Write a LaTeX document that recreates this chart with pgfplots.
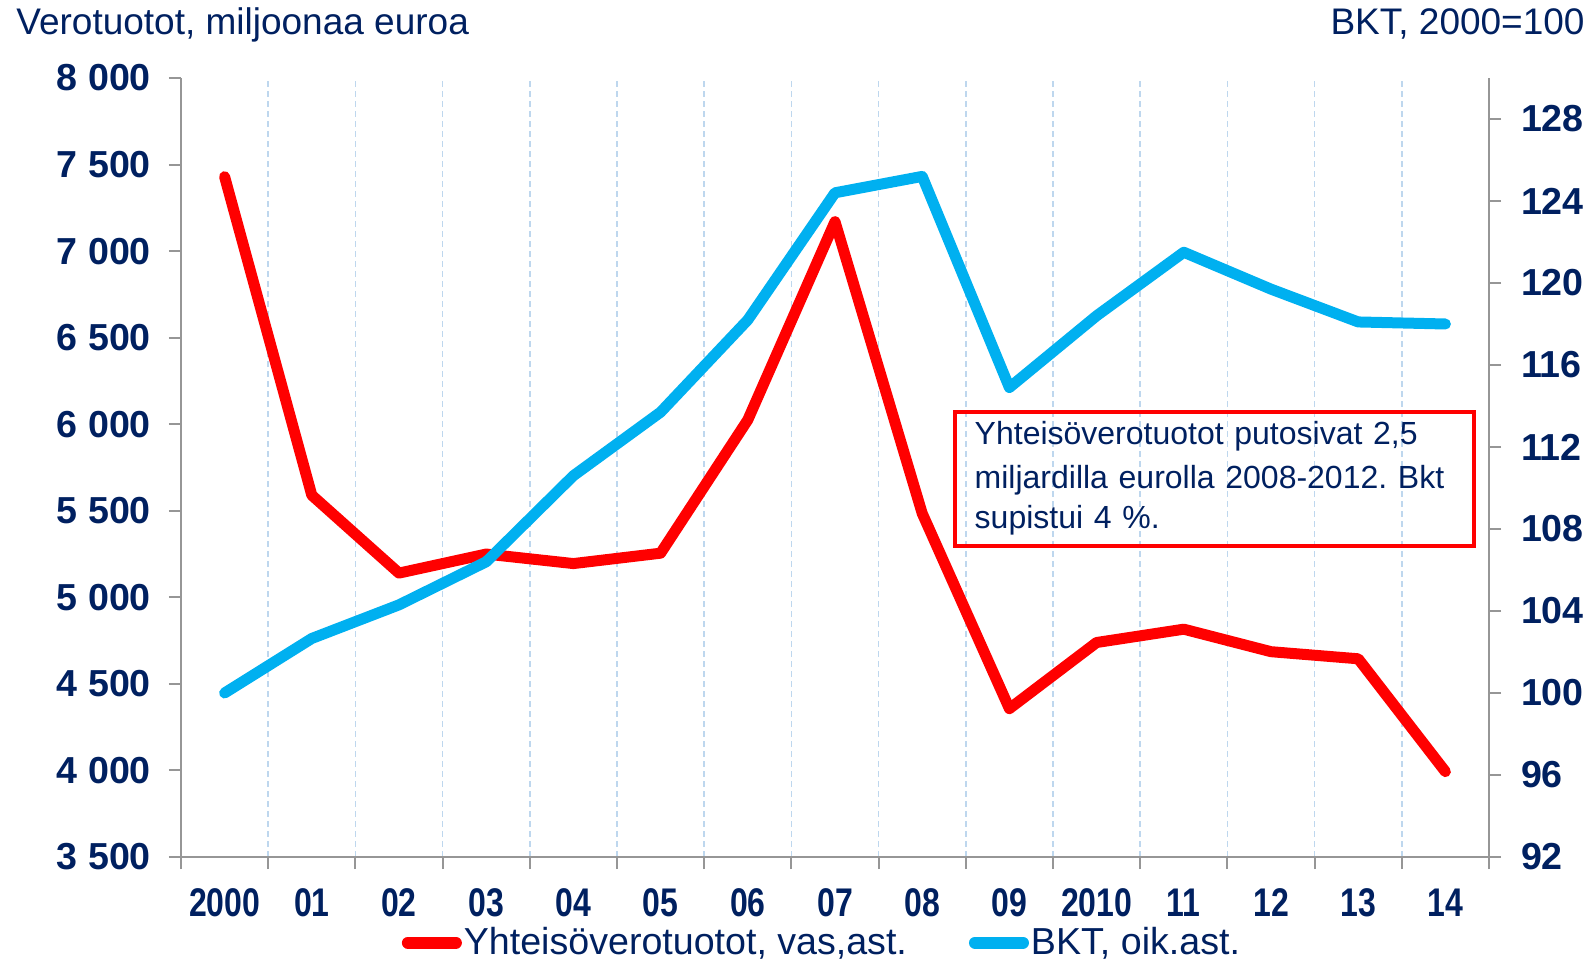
\documentclass[border=0pt]{standalone}
\usepackage{pgfplots}
\pgfplotsset{compat=1.18}
\usepackage{fontspec}
\setmainfont{Liberation Sans}
\newfontfamily\narrowfont[FakeStretch=0.8]{Liberation Sans}
\definecolor{navy}{RGB}{0,32,96}
\definecolor{axisgray}{RGB}{150,150,150}
\definecolor{gridblue}{RGB}{190,215,238}
\definecolor{bktblue}{RGB}{0,176,240}
\definecolor{taxred}{RGB}{255,0,0}
\begin{document}
\frenchspacing
\begin{tikzpicture}
\useasboundingbox (-90.5bp,-53bp) rectangle (706.5bp,428.5bp);
\begin{axis}[
  at={(0,0)}, anchor=south west, scale only axis,
  width=654bp, height=389.5bp,
  xmin=-0.5, xmax=14.5, ymin=3500, ymax=8000,
  axis x line*=bottom, axis y line*=left,
  axis line style={draw=axisgray, line width=1bp, -},
  tick align=outside, major tick length=6bp,
  tick style={draw=axisgray, line width=1bp},
  xtick={-0.5,0.5,...,14.5}, xticklabels={},
  xmajorgrids,
  major grid style={draw=gridblue, line width=0.8bp, dash pattern=on 3bp off 2bp},
  extra x ticks={0,1,...,14},
  extra x tick labels={2000,01,02,03,04,05,06,07,08,09,2010,11,12,13,14},
  extra x tick style={major tick length=0pt, grid=none,
    tick label style={font=\narrowfont\bfseries\fontsize{20bp}{20bp}\selectfont, text=navy, yshift=-12.5bp}},
  ytick={3500,4000,...,8000},
  yticklabels={3 500,4 000,4 500,5 000,5 500,6 000,6 500,7 000,7 500,8 000},
  yticklabel style={font=\bfseries\fontsize{18.8bp}{18.8bp}\selectfont, text=navy, xshift=-5.5bp},
  legend style={at={(0.49,-0.11)}, anchor=center, draw=none, fill=none,
    legend columns=2, font=\fontsize{18.8bp}{22bp}\selectfont, text=navy,
    /tikz/every even column/.append style={column sep=30bp},
    nodes={inner sep=1bp}},
  legend image code/.code={\draw[#1, line width=6bp, line cap=round] (3bp,0bp) -- (27bp,0bp);},
]
\addplot[taxred, line width=5.5bp, line join=round, line cap=round] coordinates {
 (0,7430) (1,5590) (2,5140) (3,5250) (4,5195) (5,5255) (6,6025) (7,7170)
 (8,5485) (9,4357) (10,4739) (11,4816) (12,4686) (13,4645) (14,3993)};
\addlegendentry{Yhteisöverotuotot, vas,ast.}
\addlegendimage{bktblue}
\addlegendentry{BKT, oik.ast.}
\node[draw=taxred, line width=2bp, anchor=north west, minimum width=259.5bp,
  minimum height=67bp, text width=239.5bp, inner xsep=10bp, align=left,
  text=navy, font=\fontsize{16bp}{19.9bp}\selectfont]
  at (axis cs:8.35,6085) {\vspace*{2bp}Yhteisöverotuotot putosivat 2,5\\ miljardilla eurolla 2008-2012. Bkt\\ supistui 4 \%.};
\end{axis}
\begin{axis}[
  at={(0,0)}, anchor=south west, scale only axis,
  width=654bp, height=389.5bp,
  xmin=-0.5, xmax=14.5, ymin=92, ymax=130,
  axis x line=none, axis y line*=right,
  axis line style={draw=axisgray, line width=1bp, -},
  tick align=outside, major tick length=6bp,
  tick style={draw=axisgray, line width=1bp},
  ytick={92,96,...,128},
  yticklabel style={/pgf/number format/assume math mode=true,
    font=\bfseries\fontsize{18.8bp}{18.8bp}\selectfont, text=navy, xshift=6.5bp},
]
\addplot[bktblue, line width=5.5bp, line join=round, line cap=round] coordinates {
 (0,100.0) (1,102.66) (2,104.3) (3,106.4) (4,110.6) (5,113.7) (6,118.2) (7,124.4)
 (8,125.2) (9,114.9) (10,118.4) (11,121.5) (12,119.7) (13,118.1) (14,118.0)};
\end{axis}
\node[anchor=base west, text=navy, font=\fontsize{18.5bp}{22bp}\selectfont, inner sep=0pt] at (-82.5bp,411bp) {Verotuotot, miljoonaa euroa};
\node[anchor=base east, text=navy, font=\fontsize{18.5bp}{22bp}\selectfont, inner sep=0pt] at (702bp,411bp) {BKT, 2000=100};
\end{tikzpicture}
\end{document}
